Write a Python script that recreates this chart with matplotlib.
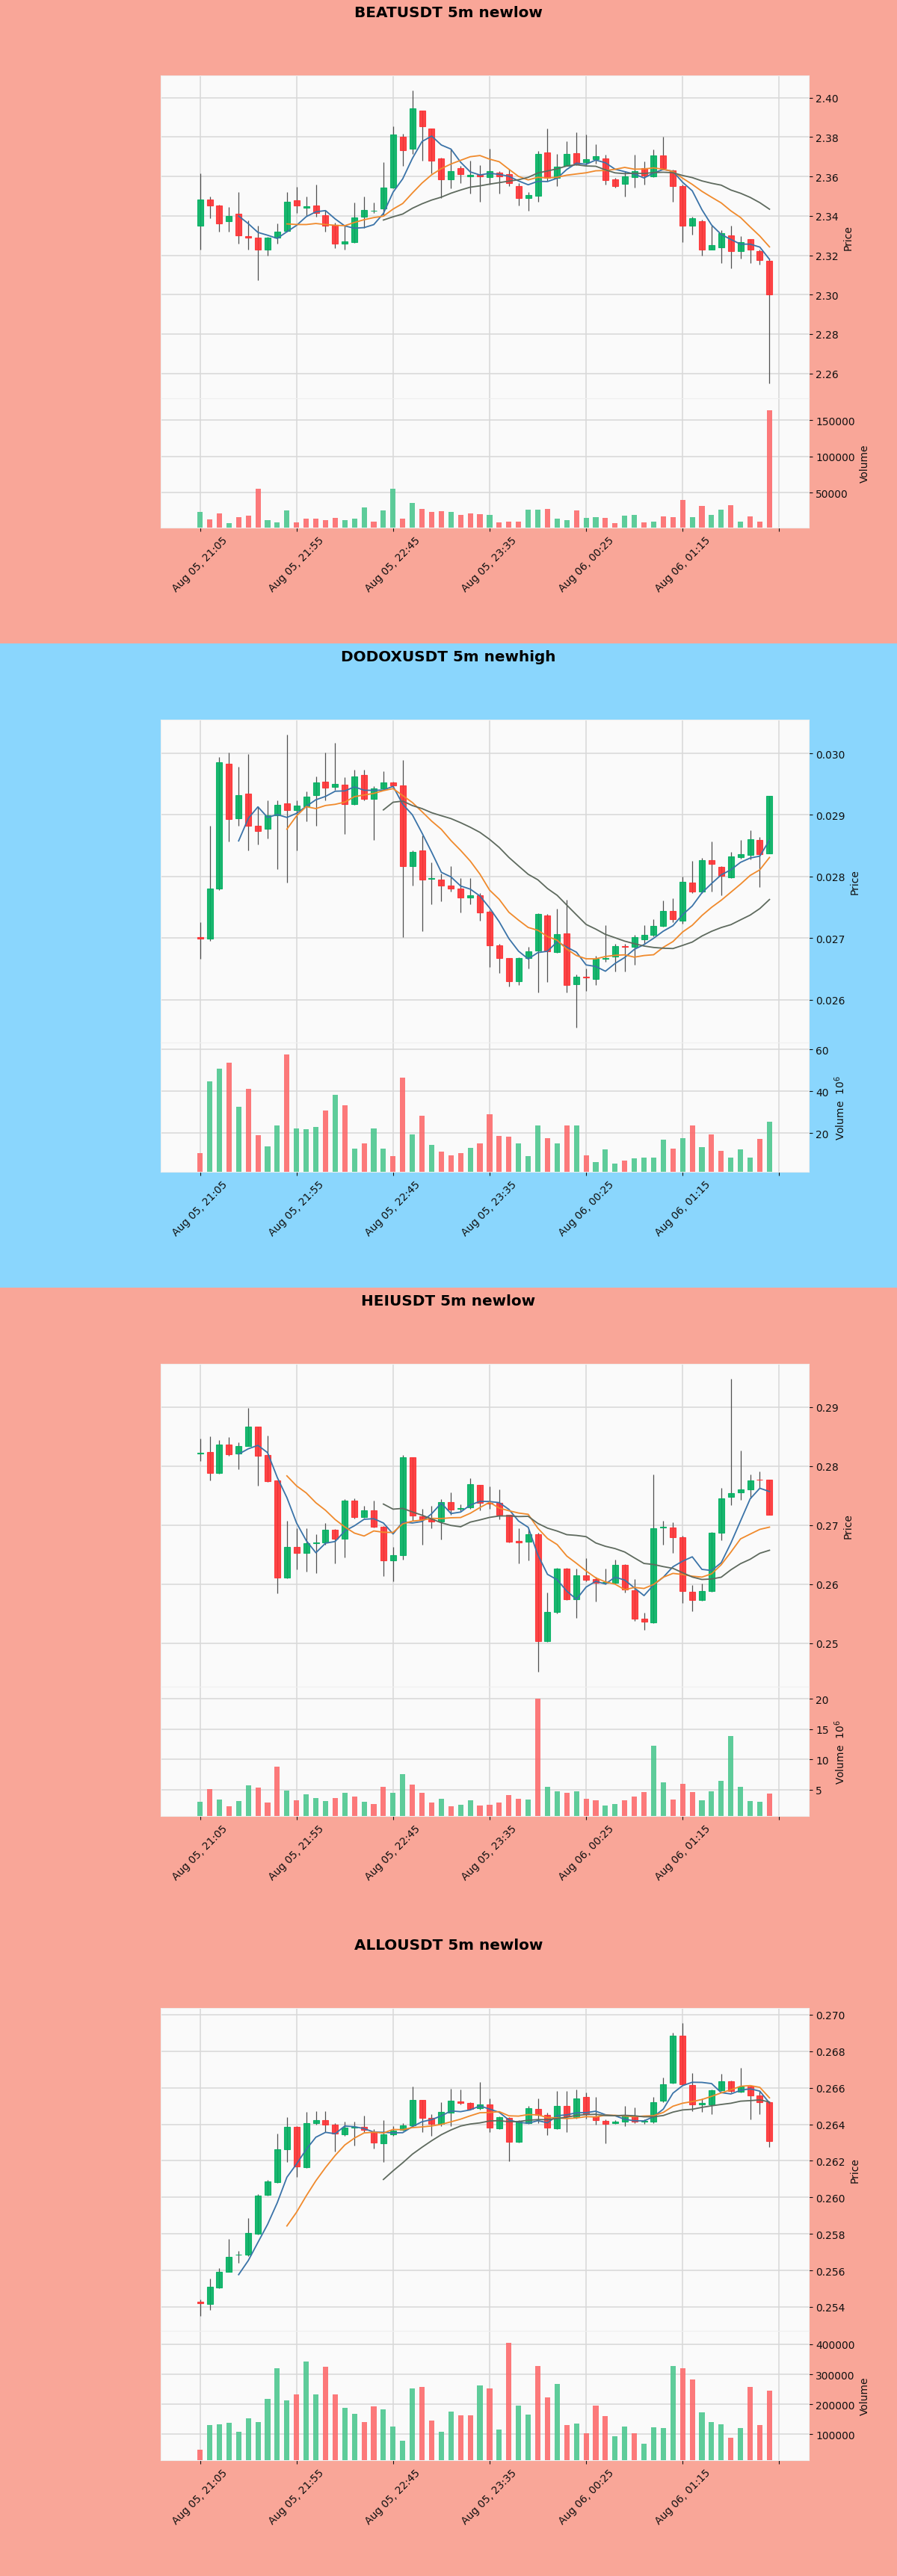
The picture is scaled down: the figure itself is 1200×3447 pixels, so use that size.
import numpy as np
import pandas as pd
import matplotlib
matplotlib.use("Agg")
import matplotlib.pyplot as plt
from matplotlib.patches import Rectangle
from matplotlib.ticker import FormatStrFormatter, FixedLocator

# ---------------------------------------------------------------- data
titles = ["BEATUSDT 5m newlow", "DODOXUSDT 5m newhigh", "HEIUSDT 5m newlow", "ALLOUSDT 5m newlow"]
x_tick_pos = [0, 10, 20, 30, 40, 50, 60]
x_tick_labels = ["Aug 05, 21:05", "Aug 05, 21:55", "Aug 05, 22:45", "Aug 05, 23:35",
                 "Aug 06, 00:25", "Aug 06, 01:15", ""]

beat_open = [2.3350, 2.3483, 2.3451, 2.3373, 2.3411, 2.3296, 2.3289, 2.3228, 2.3289, 2.3322,
             2.3480, 2.3441, 2.3451, 2.3403, 2.3353, 2.3259, 2.3268, 2.3394, 2.3424, 2.3438,
             2.3542, 2.3801, 2.3741, 2.3933, 2.3842, 2.3691, 2.3584, 2.3643, 2.3602, 2.3609,
             2.3596, 2.3621, 2.3613, 2.3552, 2.3491, 2.3502, 2.3722, 2.3594, 2.3653, 2.3719,
             2.3674, 2.3686, 2.3690, 2.3585, 2.3561, 2.3596, 2.3641, 2.3600, 2.3705, 2.3630,
             2.3551, 2.3349, 2.3374, 2.3229, 2.3241, 2.3301, 2.3222, 2.3281, 2.3222, 2.3172]
beat_high = [2.3615, 2.3499, 2.3457, 2.3445, 2.3520, 2.3375, 2.3350, 2.3293, 2.3363, 2.3520,
             2.3546, 2.3499, 2.3558, 2.3426, 2.3365, 2.3350, 2.3466, 2.3499, 2.3466, 2.3672,
             2.3855, 2.3817, 2.4038, 2.3933, 2.3842, 2.3697, 2.3741, 2.3653, 2.3681, 2.3659,
             2.3741, 2.3628, 2.3640, 2.3565, 2.3520, 2.3729, 2.3842, 2.3716, 2.3779, 2.3823,
             2.3811, 2.3765, 2.3711, 2.3591, 2.3626, 2.3711, 2.3678, 2.3738, 2.3801, 2.3633,
             2.3558, 2.3394, 2.3379, 2.3349, 2.3326, 2.3349, 2.3296, 2.3281, 2.3229, 2.3184]
beat_low = [2.3230, 2.3388, 2.3319, 2.3319, 2.3259, 2.3230, 2.3072, 2.3199, 2.3259, 2.3319,
            2.3413, 2.3401, 2.3394, 2.3319, 2.3236, 2.3230, 2.3262, 2.3337, 2.3413, 2.3401,
            2.3539, 2.3653, 2.3716, 2.3681, 2.3615, 2.3489, 2.3539, 2.3565, 2.3514, 2.3470,
            2.3558, 2.3512, 2.3552, 2.3451, 2.3426, 2.3470, 2.3577, 2.3552, 2.3653, 2.3659,
            2.3659, 2.3663, 2.3558, 2.3543, 2.3499, 2.3543, 2.3558, 2.3596, 2.3633, 2.3472,
            2.3267, 2.3304, 2.3199, 2.3229, 2.3162, 2.3132, 2.3184, 2.3162, 2.3151, 2.2548]
beat_close = [2.3483, 2.3451, 2.3360, 2.3401, 2.3300, 2.3290, 2.3228, 2.3289, 2.3319, 2.3470,
              2.3451, 2.3449, 2.3413, 2.3350, 2.3259, 2.3272, 2.3392, 2.3428, 2.3426, 2.3542,
              2.3811, 2.3732, 2.3946, 2.3855, 2.3681, 2.3584, 2.3628, 2.3613, 2.3609, 2.3602,
              2.3628, 2.3600, 2.3565, 2.3491, 2.3504, 2.3716, 2.3594, 2.3650, 2.3714, 2.3663,
              2.3688, 2.3701, 2.3581, 2.3551, 2.3600, 2.3626, 2.3603, 2.3708, 2.3641, 2.3551,
              2.3349, 2.3386, 2.3229, 2.3252, 2.3311, 2.3222, 2.3267, 2.3229, 2.3177, 2.3001]
beat_volume = [23300, 13500, 21500, 8300, 16300, 18000, 55600, 11800, 9400, 26000,
               8700, 14600, 14600, 11800, 15600, 12800, 14600, 30200, 10400, 26000,
               55600, 13900, 36500, 27800, 24000, 25000, 24000, 19700, 21600, 20900,
               19700, 9600, 10600, 10600, 26800, 26800, 28000, 14600, 12600, 25600,
               15900, 16700, 15900, 7700, 18700, 19500, 9300, 10600, 17900, 16700,
               40200, 16700, 32100, 19500, 26800, 32900, 10600, 17900, 10600, 163800]

dodox_open = [0.02701, 0.026997, 0.027801, 0.029836, 0.028943, 0.02934, 0.02882, 0.028769, 0.028993, 0.029191,
              0.029082, 0.02914, 0.029315, 0.029538, 0.029449, 0.029489, 0.029176, 0.029648, 0.029256, 0.029429,
              0.029529, 0.029479, 0.028174, 0.028422, 0.02796, 0.02795, 0.02785, 0.0278, 0.027662, 0.027692,
              0.027429, 0.026883, 0.02667, 0.026303, 0.02667, 0.026799, 0.027365, 0.026769, 0.027082, 0.026253,
              0.02637, 0.026337, 0.02666, 0.0267, 0.026868, 0.026858, 0.026983, 0.027057, 0.027196, 0.027444,
              0.02728, 0.027901, 0.027752, 0.028263, 0.028159, 0.02799, 0.028308, 0.028347, 0.028595, 0.028372]
dodox_high = [0.027255, 0.028819, 0.029935, 0.03001, 0.029787, 0.029985, 0.029141, 0.02924, 0.02924, 0.030308,
              0.02924, 0.02938, 0.029628, 0.03001, 0.030174, 0.029613, 0.029737, 0.029737, 0.029464, 0.029712,
              0.029545, 0.029886, 0.028422, 0.02867, 0.028223, 0.02805, 0.028174, 0.02798, 0.02798, 0.02773,
              0.027454, 0.026908, 0.02668, 0.026685, 0.026858, 0.027404, 0.027394, 0.027479, 0.027628, 0.026412,
              0.026511, 0.02671, 0.027206, 0.026908, 0.026908, 0.027047, 0.027206, 0.027305, 0.027613, 0.027642,
              0.028, 0.028248, 0.028298, 0.028571, 0.028174, 0.028397, 0.028596, 0.028754, 0.028645, 0.029305]
dodox_low = [0.02666, 0.026958, 0.02778, 0.028571, 0.028819, 0.028422, 0.02852, 0.02862, 0.028124, 0.027901,
             0.028422, 0.028893, 0.02882, 0.02924, 0.02941, 0.028695, 0.029166, 0.02924, 0.028595, 0.02941,
             0.02944, 0.027017, 0.02785, 0.027107, 0.027553, 0.0276, 0.02775, 0.027414, 0.02755, 0.02728,
             0.026536, 0.026437, 0.026213, 0.026238, 0.026511, 0.026114, 0.026288, 0.026759, 0.026114, 0.025543,
             0.026139, 0.026238, 0.026611, 0.026462, 0.026462, 0.026561, 0.026908, 0.02703, 0.027186, 0.027255,
             0.02723, 0.027727, 0.027727, 0.02775, 0.027692, 0.02797, 0.02829, 0.028273, 0.027826, 0.028372]
dodox_close = [0.02699, 0.027801, 0.029851, 0.028933, 0.029315, 0.02882, 0.028734, 0.028993, 0.029166, 0.029082,
               0.029151, 0.0293, 0.029529, 0.029439, 0.029504, 0.029176, 0.029628, 0.029256, 0.029429, 0.029529,
               0.029479, 0.028174, 0.028397, 0.02795, 0.02797, 0.02785, 0.0278, 0.027662, 0.027692, 0.027414,
               0.026883, 0.02667, 0.026303, 0.02667, 0.026784, 0.027394, 0.026784, 0.027067, 0.026238, 0.026372,
               0.02636, 0.02666, 0.02668, 0.026868, 0.02686, 0.027017, 0.027047, 0.027196, 0.027444, 0.027305,
               0.027911, 0.027752, 0.028263, 0.028199, 0.02801, 0.028322, 0.028357, 0.02861, 0.028357, 0.029305]
dodox_volume = [10.6e6, 44.7e6, 50.9e6, 53.5e6, 32.6e6, 41.3e6, 19.0e6, 13.8e6, 23.8e6, 57.5e6,
                22.2e6, 21.9e6, 22.9e6, 31.0e6, 38.4e6, 33.2e6, 12.6e6, 15.0e6, 22.2e6, 12.6e6,
                9.0e6, 46.5e6, 19.3e6, 28.5e6, 14.3e6, 11.2e6, 9.4e6, 10.4e6, 12.9e6, 15.3e6,
                29.0e6, 18.7e6, 18.2e6, 15.3e6, 9.0e6, 23.7e6, 17.5e6, 15.0e6, 23.7e6, 23.7e6,
                9.4e6, 6.2e6, 12.4e6, 5.7e6, 6.8e6, 7.9e6, 8.4e6, 8.2e6, 17.1e6, 12.6e6,
                17.8e6, 23.8e6, 13.4e6, 19.3e6, 11.6e6, 8.4e6, 12.4e6, 8.2e6, 17.2e6, 25.6e6]

hei_open = [0.2821, 0.28239, 0.27884, 0.28366, 0.28214, 0.28341, 0.2867, 0.28189, 0.27758, 0.2611,
            0.26627, 0.26525, 0.26693, 0.26708, 0.26921, 0.26769, 0.27418, 0.27134, 0.2725, 0.26972,
            0.26404, 0.2649, 0.28148, 0.27149, 0.27098, 0.27063, 0.27387, 0.2727, 0.27301, 0.27682,
            0.2738, 0.27377, 0.27174, 0.26733, 0.26718, 0.26845, 0.25034, 0.25526, 0.26262, 0.25744,
            0.2615, 0.26084, 0.2602, 0.26018, 0.26323, 0.25897, 0.2541, 0.25349, 0.26956, 0.26961,
            0.26794, 0.25871, 0.25729, 0.25881, 0.2687, 0.27479, 0.27555, 0.27605, 0.27773, 0.27773]
hei_high = [0.28468, 0.28503, 0.28442, 0.28493, 0.28402, 0.28985, 0.2867, 0.28518, 0.27758, 0.27073,
            0.26946, 0.26946, 0.26845, 0.27037, 0.2693, 0.27438, 0.27453, 0.27327, 0.27418, 0.2698,
            0.26627, 0.28189, 0.28148, 0.27276, 0.27327, 0.27438, 0.27555, 0.2735, 0.27793, 0.27682,
            0.27656, 0.27605, 0.27174, 0.26946, 0.26946, 0.2687, 0.25856, 0.26272, 0.26272, 0.26262,
            0.26439, 0.2612, 0.26262, 0.26414, 0.26338, 0.26084, 0.25511, 0.27859, 0.27073, 0.27048,
            0.2682, 0.25983, 0.26008, 0.2688, 0.27631, 0.29482, 0.28265, 0.27859, 0.2791, 0.27773]
hei_low = [0.28087, 0.27758, 0.2787, 0.2818, 0.27945, 0.2834, 0.27671, 0.2773, 0.25846, 0.2610,
           0.26252, 0.26211, 0.26186, 0.26667, 0.26353, 0.26454, 0.27114, 0.27124, 0.26961, 0.26135,
           0.26049, 0.26414, 0.27073, 0.26667, 0.26946, 0.26759, 0.27174, 0.2724, 0.27276, 0.2725,
           0.27276, 0.27098, 0.26708, 0.26353, 0.26404, 0.24512, 0.25019, 0.2551, 0.25729, 0.25425,
           0.26049, 0.25704, 0.2600, 0.25998, 0.25856, 0.25375, 0.25222, 0.25339, 0.26667, 0.26525,
           0.25679, 0.25542, 0.25714, 0.25871, 0.26743, 0.27337, 0.27428, 0.27453, 0.27631, 0.27174]
hei_close = [0.2822, 0.27884, 0.28366, 0.28199, 0.28341, 0.2867, 0.28178, 0.27742, 0.2611, 0.26627,
             0.26525, 0.26693, 0.26703, 0.26921, 0.26769, 0.27418, 0.27134, 0.2725, 0.26972, 0.26404,
             0.2649, 0.28148, 0.27164, 0.27098, 0.27063, 0.27387, 0.27266, 0.2729, 0.27692, 0.27377,
             0.2737, 0.27174, 0.26718, 0.26708, 0.26845, 0.25034, 0.25526, 0.26262, 0.25744, 0.2615,
             0.26069, 0.26018, 0.2603, 0.26323, 0.25907, 0.2541, 0.25359, 0.26946, 0.26966, 0.26794,
             0.25881, 0.25729, 0.25881, 0.2687, 0.27453, 0.2754, 0.27605, 0.27758, 0.27765, 0.27174]
hei_volume = [2.97e6, 5.02e6, 3.31e6, 2.24e6, 3.07e6, 5.75e6, 5.31e6, 2.83e6, 8.82e6, 4.82e6,
              3.21e6, 4.19e6, 3.56e6, 3.07e6, 3.56e6, 4.43e6, 3.85e6, 2.97e6, 2.58e6, 5.50e6,
              4.43e6, 7.60e6, 5.80e6, 4.43e6, 2.83e6, 3.46e6, 2.24e6, 2.48e6, 3.21e6, 2.39e6,
              2.48e6, 2.83e6, 4.04e6, 3.46e6, 3.36e6, 20.0e6, 5.50e6, 4.68e6, 4.43e6, 4.68e6,
              3.46e6, 3.21e6, 2.39e6, 2.58e6, 3.21e6, 3.85e6, 4.53e6, 12.2e6, 6.14e6, 3.31e6,
              5.89e6, 4.53e6, 3.21e6, 4.68e6, 6.48e6, 13.8e6, 5.50e6, 3.07e6, 2.97e6, 4.29e6]

allo_open = [0.25430, 0.25417, 0.25506, 0.25592, 0.25684, 0.25684, 0.25802, 0.26013, 0.26081, 0.26263,
             0.26386, 0.26165, 0.26405, 0.26421, 0.26397, 0.26343, 0.26381, 0.26386, 0.26357, 0.26295,
             0.26343, 0.26370, 0.26392, 0.26535, 0.26434, 0.26402, 0.26462, 0.26525, 0.26515, 0.26486,
             0.26510, 0.26376, 0.26434, 0.26305, 0.26405, 0.26483, 0.26451, 0.26376, 0.26499, 0.26438,
             0.26548, 0.26441, 0.26418, 0.26405, 0.26413, 0.26446, 0.26413, 0.26413, 0.26527, 0.26629,
             0.26883, 0.26616, 0.26510, 0.26510, 0.26587, 0.26635, 0.26580, 0.26608, 0.26559, 0.26519]
allo_high = [0.25440, 0.25554, 0.25611, 0.25773, 0.25708, 0.25887, 0.26016, 0.26097, 0.26348, 0.26438,
             0.26390, 0.26467, 0.26470, 0.26473, 0.26408, 0.26413, 0.26413, 0.26446, 0.26373, 0.26421,
             0.26390, 0.26405, 0.26608, 0.26535, 0.26457, 0.26519, 0.26596, 0.26592, 0.26522, 0.26632,
             0.26543, 0.26441, 0.26438, 0.26421, 0.26499, 0.26543, 0.26462, 0.26583, 0.26583, 0.26592,
             0.26575, 0.26548, 0.26425, 0.26421, 0.26502, 0.26494, 0.26425, 0.26548, 0.26656, 0.26900,
             0.26956, 0.26681, 0.26543, 0.26592, 0.26677, 0.26640, 0.26710, 0.26611, 0.26583, 0.26522]
allo_low = [0.25349, 0.25384, 0.25501, 0.25592, 0.25640, 0.25676, 0.25798, 0.26008, 0.26078, 0.26194,
            0.26113, 0.26162, 0.26400, 0.26357, 0.26251, 0.26338, 0.26284, 0.26357, 0.26268, 0.26194,
            0.26338, 0.26365, 0.26389, 0.26357, 0.26338, 0.26389, 0.26389, 0.26510, 0.26478, 0.26478,
            0.26357, 0.26373, 0.26198, 0.26300, 0.26402, 0.26405, 0.26340, 0.26373, 0.26357, 0.26430,
            0.26430, 0.26397, 0.26295, 0.26402, 0.26389, 0.26408, 0.26402, 0.26408, 0.26519, 0.26624,
            0.26613, 0.26470, 0.26467, 0.26454, 0.26583, 0.26575, 0.26575, 0.26425, 0.26454, 0.26276]
allo_close = [0.25420, 0.25511, 0.25592, 0.25673, 0.25687, 0.25806, 0.26008, 0.26086, 0.26263, 0.26386,
              0.26170, 0.26405, 0.26421, 0.26397, 0.26348, 0.26381, 0.26386, 0.26370, 0.26300, 0.26343,
              0.26365, 0.26392, 0.26535, 0.26434, 0.26402, 0.26467, 0.26527, 0.26515, 0.26483, 0.26510,
              0.26381, 0.26438, 0.26305, 0.26418, 0.26486, 0.26451, 0.26381, 0.26499, 0.26441, 0.26543,
              0.26454, 0.26421, 0.26402, 0.26413, 0.26446, 0.26413, 0.26418, 0.26519, 0.26619, 0.26883,
              0.26619, 0.26510, 0.26515, 0.26587, 0.26635, 0.26583, 0.26608, 0.26559, 0.26522, 0.26308]
allo_volume = [48200, 129800, 133700, 138600, 109100, 153300, 141600, 217200, 320500, 213300,
               232000, 343100, 233000, 325400, 233000, 187800, 168100, 141600, 193700, 183800,
               126800, 77700, 252600, 257500, 146500, 109100, 176000, 163200, 163200, 261500,
               252600, 115000, 404000, 195600, 166100, 328300, 222200, 266400, 129800, 134700,
               102200, 195600, 161200, 92400, 126800, 102200, 67800, 123900, 121900, 328300,
               320500, 282100, 174000, 139600, 133700, 87500, 121900, 256600, 131700, 244800]

price_ticks = [[2.26, 2.28, 2.30, 2.32, 2.34, 2.36, 2.38, 2.40],
               [0.026, 0.027, 0.028, 0.029, 0.030],
               [0.25, 0.26, 0.27, 0.28, 0.29],
               [0.254, 0.256, 0.258, 0.260, 0.262, 0.264, 0.266, 0.268, 0.270]]
price_fmt = ["%.2f", "%.3f", "%.2f", "%.3f"]
volume_ticks = [[50000, 100000, 150000], [20, 40, 60], [5, 10, 15, 20],
                [100000, 200000, 300000, 400000]]
volume_exponent = [0, 6, 6, 0]
mav_periods = [5, 10, 20]

charts = [
    (beat_open, beat_high, beat_low, beat_close, beat_volume),
    (dodox_open, dodox_high, dodox_low, dodox_close, dodox_volume),
    (hei_open, hei_high, hei_low, hei_close, hei_volume),
    (allo_open, allo_high, allo_low, allo_close, allo_volume),
]

# ---------------------------------------------------------------- style
BG = ["#F9A698", "#8AD6FD", "#F9A698", "#F9A698"]
UP, DOWN = "#00b060", "#fe3032"
VUP, VDOWN = "#4dc790", "#fd6b6c"
WICK = "#505050"
MA_COLORS = ["#3a73a8", "#f08a2c", "#5e6a5e"]
TXT = "#101010"

plt.rcParams["font.family"] = ["DejaVu Sans"]
plt.rcParams["font.size"] = 10

W, Htot = 1200, 3448
CH = 862  # height of one chart block in px
fig = plt.figure(figsize=(W / 100, Htot / 100), dpi=100)

left = 215.3 / W
right = 1081.7 / W
top_px, mid_px, bot_px = 102.0, 534.0, 706.7

for k, (o, h, l, c, v) in enumerate(charts):
    o = np.asarray(o, float); h = np.asarray(h, float)
    l = np.asarray(l, float); c = np.asarray(c, float)
    v = np.asarray(v, float) / 10 ** volume_exponent[k]
    n = len(o)
    x = np.arange(n)

    y_block = 1 - (k + 1) * CH / Htot
    fig.add_artist(Rectangle((0, y_block), 1, CH / Htot, transform=fig.transFigure,
                             facecolor=BG[k], edgecolor="none", zorder=-10))

    def fy(px):
        return y_block + (CH - px) / Htot

    ax = fig.add_axes([left, fy(mid_px), right - left, fy(top_px) - fy(mid_px)])
    axv = fig.add_axes([left, fy(bot_px), right - left, fy(mid_px) - fy(bot_px)], sharex=ax)

    for a in (ax, axv):
        a.set_facecolor("#fafafa")
        a.set_axisbelow(True)
        a.grid(True, color="#d8d8d8", linewidth=1.1, linestyle="-")
        for s in a.spines.values():
            s.set_color("#f0f0f0")
        a.yaxis.tick_right()
        a.yaxis.set_label_position("right")
        a.tick_params(axis="both", colors=TXT, labelsize=10, labelcolor=TXT)

    # candles
    up = c > o
    body_col = np.where(up, UP, DOWN)
    ax.vlines(x, l, h, colors=WICK, linewidth=0.9, zorder=2)
    ax.bar(x, np.abs(c - o), bottom=np.minimum(o, c), width=0.62, color=body_col,
           edgecolor=body_col, linewidth=0.8, alpha=0.9, zorder=3)
    cs = pd.Series(c)
    for per, col in zip(mav_periods, MA_COLORS):
        ax.plot(x, cs.rolling(per).mean().values, color=col, linewidth=1.3, zorder=4)

    lo, hi = l.min(), h.max()
    r = hi - lo
    ax.set_ylim(lo - 0.05 * r, hi + 0.05 * r)
    ax.set_xlim(-1 - 0.05 * (n + 1), n + 0.05 * (n + 1))
    ax.yaxis.set_major_locator(FixedLocator(price_ticks[k]))
    ax.yaxis.set_major_formatter(FormatStrFormatter(price_fmt[k]))
    ax.set_ylabel("Price", color=TXT)
    ax.tick_params(axis="x", bottom=False, labelbottom=False)

    # volume (colour by close vs previous close)
    vup = np.concatenate([[c[0] > o[0]], c[1:] > c[:-1]])
    axv.bar(x, v, width=0.55, color=np.where(vup, VUP, VDOWN), alpha=0.9, zorder=3)
    axv.set_ylim(0.3 * v.min(), 1.1 * v.max())
    axv.yaxis.set_major_locator(FixedLocator(volume_ticks[k]))
    axv.yaxis.set_major_formatter(FormatStrFormatter("%d"))
    vlabel = "Volume" if volume_exponent[k] == 0 else "Volume  $10^{%d}$" % volume_exponent[k]
    axv.set_ylabel(vlabel, color=TXT)
    axv.set_xticks(x_tick_pos)
    axv.set_xticklabels(x_tick_labels, rotation=45, ha="center")

    fig.text(0.5, fy(23.3), titles[k], ha="center", va="baseline",
             fontsize=14.4, fontweight="semibold", color="black")

fig.savefig("out.png", dpi=100)
